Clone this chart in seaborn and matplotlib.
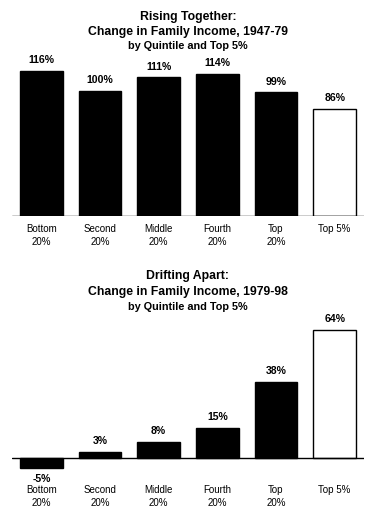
import matplotlib
matplotlib.use("Agg")
import matplotlib.pyplot as plt
import seaborn as sns
import pandas as pd

categories = ["Bottom\n20%", "Second\n20%", "Middle\n20%", "Fourth\n20%", "Top\n20%", "Top 5%"]
rising_1947_79 = [116, 100, 111, 114, 99, 86]
drifting_1979_98 = [-5, 3, 8, 15, 38, 64]
bar_colors = ["black", "black", "black", "black", "black", "white"]

sns.set_style("white")
plt.rcParams["font.family"] = ["Liberation Sans", "DejaVu Sans"]
plt.rcParams["text.color"] = "black"
plt.rcParams["xtick.color"] = "black"

W, H = 376, 520
fig = plt.figure(figsize=(W / 100, H / 100), dpi=100)


def px_axes(left, top, right, bottom):
    return fig.add_axes([left / W, 1 - bottom / H, (right - left) / W, (bottom - top) / H])


def draw_panel(ax, values, ylim, titles, title_y):
    df = pd.DataFrame({"group": categories, "change": values})
    sns.barplot(data=df, x="group", y="change", hue="group", palette=bar_colors,
                edgecolor="black", linewidth=1, width=0.73, legend=False, ax=ax)
    ax.set_ylim(*ylim)
    ax.set_xlim(-0.5, len(categories) - 0.5)
    for s in ax.spines.values():
        s.set_visible(False)
    ax.axhline(0, color="black", linewidth=1)
    ax.set_yticks([])
    ax.set_xlabel("")
    ax.set_ylabel("")
    ax.tick_params(axis="x", length=0, labelsize=7, labelcolor="black")
    for lbl in ax.get_xticklabels():
        lbl.set_linespacing(1.35)
    for c in ax.containers:
        ax.bar_label(c, fmt="%g%%", padding=4, fontsize=7.6, fontweight="bold", color="black")
    sizes = [8.8, 8.8, 7.8]
    for t, y, fs in zip(titles, title_y, sizes):
        fig.text(0.5, 1 - y / H, t, ha="center", va="center", fontsize=fs,
                 fontweight="bold", color="black")


ax1 = px_axes(12, 216 - 130 * 1.25, 364, 216)
draw_panel(ax1, rising_1947_79, (0, 130),
           ["Rising Together:", "Change in Family Income, 1947-79", "by Quintile and Top 5%"],
           [17, 32, 46])
ax1.tick_params(axis="x", pad=6)

ax2 = px_axes(12, 458 - 70 * 2, 364, 458 + 8 * 2)
draw_panel(ax2, drifting_1979_98, (-8, 70),
           ["Drifting Apart:", "Change in Family Income, 1979-98", "by Quintile and Top 5%"],
           [276, 292, 307])
ax2.tick_params(axis="x", pad=8)

fig.savefig("out.png", dpi=100)
